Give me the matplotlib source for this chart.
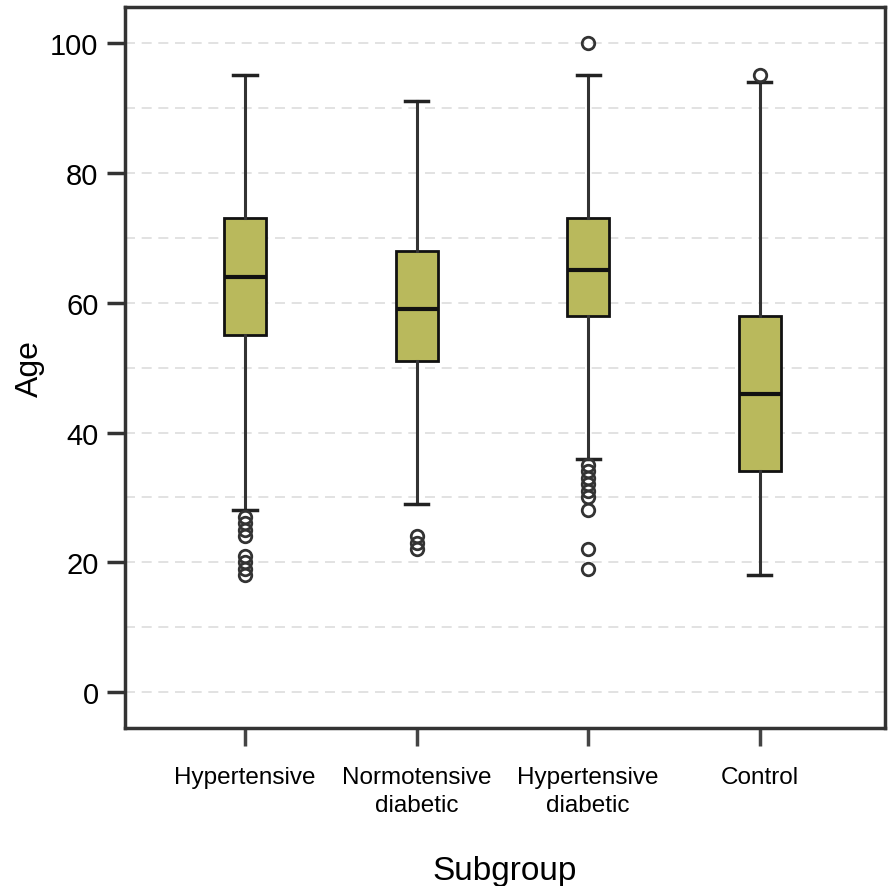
import matplotlib.pyplot as plt

groups = ["Hypertensive", "Normotensive\ndiabetic", "Hypertensive\ndiabetic", "Control"]
q1 = [55, 51, 58, 34]
medians = [64, 59, 65, 46]
q3 = [73, 68, 73, 58]
whisk_lo = [28, 29, 36, 18]
whisk_hi = [95, 91, 95, 94]
outliers = [
    [27, 26, 25, 24, 21, 20, 19, 18],
    [24, 23, 22],
    [100, 35, 34, 33, 32, 31, 30, 28, 22, 19],
    [95],
]

plt.rcParams['font.family'] = ['Liberation Sans', 'DejaVu Sans']

fig = plt.figure(figsize=(8.96, 8.87), dpi=100)
ax = fig.add_axes([0.1395, 0.178, 0.848, 0.813])

stats = []
for i in range(len(groups)):
    stats.append(dict(q1=q1[i], med=medians[i], q3=q3[i],
                      whislo=whisk_lo[i], whishi=whisk_hi[i],
                      fliers=outliers[i], label=groups[i]))

ax.bxp(stats, positions=[1, 2, 3, 4], widths=0.245, capwidths=0.135,
       patch_artist=True,
       boxprops=dict(facecolor='#b9b95c', edgecolor='#111111', linewidth=2),
       medianprops=dict(color='#111111', linewidth=3),
       whiskerprops=dict(color='#333333', linewidth=2.2),
       capprops=dict(color='#222222', linewidth=2.5),
       flierprops=dict(marker='o', markersize=9, markerfacecolor='none',
                       markeredgecolor='#333333', markeredgewidth=2))

for v in range(0, 101, 10):
    ax.axhline(v, color='#dddddd', linestyle=(0, (6, 4)), linewidth=1.2, zorder=0)

ax.set_xlim(0.3, 4.73)
ax.set_ylim(-5.5, 105.5)
ax.set_yticks([0, 20, 40, 60, 80, 100])
ax.set_xticks([1, 2, 3, 4])
ax.set_xticklabels(groups, fontsize=17.5, linespacing=1.4)
ax.tick_params(axis='y', labelsize=21, length=13, width=2.5, color='#333333', pad=6)
ax.tick_params(axis='x', length=13, width=2.5, color='#444444', pad=14)
for s in ax.spines.values():
    s.set_linewidth(2.5)
    s.set_color('#333333')

ax.set_ylabel("Age", fontsize=23, labelpad=4)
ax.set_xlabel("Subgroup", fontsize=24, labelpad=28)

fig.savefig("out.png", dpi=100)
